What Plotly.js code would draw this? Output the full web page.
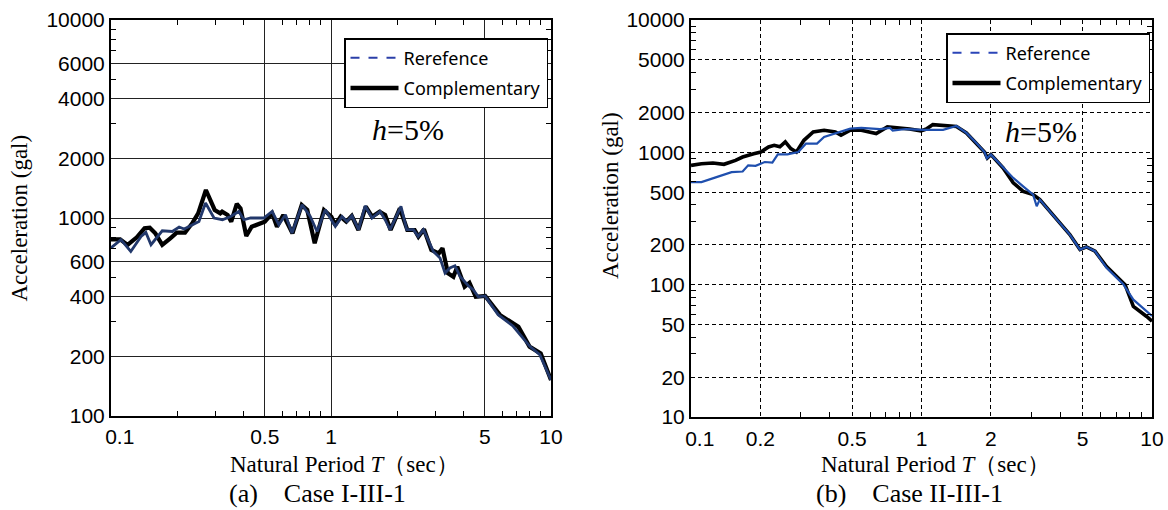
<!DOCTYPE html>
<html>
<head>
<meta charset="utf-8">
<script src="https://cdn.plot.ly/plotly-3.0.1.min.js"></script>
<style>html,body{margin:0;padding:0;background:#fff;}#chart{width:1168px;height:510px;}</style>
</head>
<body>
<div id="chart"></div>
<script>
// ---------- Data: (a) Case I-III-1 ----------
const periodA_comp = [0.100,0.110,0.119,0.131,0.142,0.150,0.159,0.171,0.186,0.199,0.217,0.235,0.249,0.270,0.296,0.314,0.320,0.339,0.352,0.373,0.388,0.412,0.436,0.471,0.500,0.540,0.568,0.607,0.668,0.736,0.780,0.843,0.929,1.004,1.044,1.106,1.173,1.243,1.333,1.439,1.538,1.662,1.762,1.866,2.056,2.223,2.40,2.497,2.647,2.858,3.09,3.212,3.40,3.60,3.75,4.05,4.26,4.55,5.02,5.86,7.11,7.99,8.98,10.0];
const accA_comp = [780,780,731,799,887,893,837,731,790,843,843,947,1056,1385,1098,1056,1076,1035,958,1178,1119,811,903,940,958,1056,903,1035,837,1163,1098,745,1098,1016,922,1016,958,1024,870,1141,1016,1076,1035,870,1119,870,870,805,877,689,663,703,526,505,568,450,471,400,404,324,282,224,207,152];
const periodA_ref = [0.100,0.111,0.123,0.137,0.144,0.152,0.171,0.190,0.204,0.215,0.230,0.251,0.269,0.294,0.321,0.350,0.381,0.402,0.431,0.495,0.540,0.579,0.621,0.665,0.739,0.805,0.864,0.942,1.046,1.122,1.182,1.245,1.334,1.430,1.535,1.673,1.762,1.857,2.08,2.21,2.37,2.49,2.63,2.92,3.13,3.30,3.47,3.66,3.86,4.21,4.43,4.67,5.01,5.75,6.73,8.01,8.89,10.0];
const accA_ref = [706,777,678,807,846,733,862,855,901,880,914,961,1191,1000,980,1018,1079,980,1000,1000,1079,925,1039,840,1167,1018,855,1101,908,1018,961,1027,873,1153,1000,1079,980,873,1145,873,873,807,873,678,628,527,559,574,507,455,434,400,404,325,284,225,204,152];

// ---------- Data: (b) Case II-III-1 ----------
const periodB_comp = [0.100,0.111,0.1245,0.139,0.156,0.1675,0.187,0.201,0.217,0.2295,0.243,0.2565,0.271,0.2867,0.309,0.339,0.378,0.423,0.4475,0.491,0.548,0.636,0.711,0.795,0.888,0.993,1.049,1.12,1.287,1.418,1.566,1.73,1.88,1.93,2.0,2.26,2.50,2.76,3.05,3.26,3.6,3.98,4.40,4.87,5.2,5.66,6.35,7.64,8.3,9.48,10.0];
const accB_comp = [797,820,830,812,870,922,977,1006,1097,1129,1100,1198,1066,1006,1233,1426,1468,1426,1346,1468,1468,1385,1556,1530,1500,1452,1500,1620,1580,1570,1401,1178,1000,907,961,762,588,507,479,439,358,293,239,184,193,179,137,100,68.5,57.5,53];
const periodB_ref = [0.100,0.111,0.129,0.150,0.1675,0.177,0.1906,0.209,0.2254,0.238,0.262,0.292,0.315,0.352,0.378,0.423,0.491,0.548,0.66,0.73,0.75,0.856,1.03,1.24,1.418,1.566,1.73,1.88,1.92,2.0,2.26,2.50,2.76,3.05,3.16,3.26,3.6,3.98,4.40,4.87,5.2,5.66,6.35,7.5,8.3,10.0];
const accB_ref = [596,596,650,709,716,797,790,845,837,966,966,1006,1163,1163,1306,1385,1511,1530,1500,1530,1460,1500,1480,1480,1580,1401,1178,1000,900,961,762,641,553,479,391,439,358,293,239,184,193,179,134,101,77,58];

// ---------- Ticks / labels ----------
const xTicksA = [0.1,0.5,1,5,10];
const yTicksA = [100,200,400,600,1000,2000,4000,6000,10000];
const xMinorA = [0.2,0.3,0.4,0.6,0.7,0.8,0.9,2,3,4,6,7,8,9];
const yMinorA = [300,500,700,800,900,3000,5000,7000,8000,9000];
const xTicksB = [0.1,0.2,0.5,1,2,5,10];
const yTicksB = [10,20,50,100,200,500,1000,2000,5000,10000];
const xMinorB = [0.3,0.4,0.6,0.7,0.8,0.9,3,4,6,7,8,9];
const yMinorB = [30,40,60,70,80,90,300,400,600,700,800,900,3000,4000,6000,7000,8000,9000];
const solidXB = [1];
const solidYB = [100,1000];

const nameRefA = 'Rerefence';
const nameRefB = 'Reference';
const nameComp = 'Complementary';
const xTitle = 'Natural Period <i>T</i>（sec）';
const yTitle = 'Acceleration (gal)';
const capA = '(a)\u3000Case I-III-1';
const capB = '(b)\u3000Case II-III-1';
const dampText = '<i>h</i>=5%';

const W = 1168, H = 510;
const px = v => v / W;
const py = v => 1 - v / H;

const SANS = 'Liberation Sans, Arial, sans-serif';
const SERIF = 'Liberation Serif, Times New Roman, serif';
const LEG = 'Noto Sans, Open Sans, sans-serif';

const navy = '#22386b';
const blueB = '#1f4fae';

// first x label sits slightly right of the axis corner, as in the original
const xLabel = (v, i) => (i === 0 ? '\u00a0\u00a0\u00a0' : '') + String(v);

const traces = [
  {x: periodA_comp, y: accA_comp, xaxis: 'x', yaxis: 'y', mode: 'lines', line: {color: '#000', width: 4.2}, showlegend: false},
  {x: periodA_ref, y: accA_ref, xaxis: 'x', yaxis: 'y', mode: 'lines', line: {color: navy, width: 2.8}, showlegend: false},
  {x: periodB_comp, y: accB_comp, xaxis: 'x2', yaxis: 'y2', mode: 'lines', line: {color: '#000', width: 3.6}, showlegend: false},
  {x: periodB_ref, y: accB_ref, xaxis: 'x2', yaxis: 'y2', mode: 'lines', line: {color: blueB, width: 2.2}, showlegend: false},
  // legend entries
  {x: [null], y: [null], xaxis: 'x', yaxis: 'y', mode: 'lines', name: nameRefA, legend: 'legend', legendgroup: 'a1', line: {color: '#2b3fa8', width: 2, dash: 'dash'}},
  {x: [null], y: [null], xaxis: 'x', yaxis: 'y', mode: 'lines', name: nameComp, legend: 'legend', legendgroup: 'a2', line: {color: '#000', width: 4.5}},
  {x: [null], y: [null], xaxis: 'x2', yaxis: 'y2', mode: 'lines', name: nameRefB, legend: 'legend2', legendgroup: 'b1', line: {color: '#2b45b8', width: 2, dash: 'dash'}},
  {x: [null], y: [null], xaxis: 'x2', yaxis: 'y2', mode: 'lines', name: nameComp, legend: 'legend2', legendgroup: 'b2', line: {color: '#000', width: 4.5}}
];

function axisBase(extra) {
  return Object.assign({
    type: 'log', showline: true, linecolor: '#000', linewidth: 2, mirror: 'ticks',
    ticks: '', tickmode: 'array', zeroline: false, fixedrange: true,
    tickfont: {family: SANS, size: 21, color: '#000'},
  }, extra);
}

function ann(text, x, y, size, angle) {
  return {text: text, xref: 'paper', yref: 'paper', x: px(x), y: py(y), xanchor: 'center', yanchor: 'middle',
          textangle: angle || 0, showarrow: false, font: {family: SERIF, size: size, color: '#000'}};
}

const legendBase = {
  xref: 'paper', yref: 'paper', xanchor: 'right', yanchor: 'top',
  bgcolor: '#fff', bordercolor: '#000', borderwidth: 1.5, itemwidth: 48,
  font: {family: LEG, size: 18, color: '#000'}, traceorder: 'grouped', tracegroupgap: 4
};

const layout = {
  width: W, height: H,
  margin: {l: 0, r: 0, t: 0, b: 0},
  paper_bgcolor: '#fff', plot_bgcolor: '#fff',
  xaxis: axisBase({
    domain: [px(111), px(551)], range: [-1, 1], anchor: 'y',
    tickvals: xTicksA, ticktext: xTicksA.map(xLabel),
    showgrid: true, gridcolor: '#222', gridwidth: 1, ticklabelstandoff: 1,
    minor: {tickmode: 'array', tickvals: xMinorA, ticks: 'inside', ticklen: 5, tickcolor: '#000', tickwidth: 1, showgrid: false}
  }),
  yaxis: axisBase({
    domain: [py(416), py(20)], range: [2, 4], anchor: 'x',
    tickvals: yTicksA, ticktext: yTicksA.map(String),
    showgrid: true, gridcolor: '#222', gridwidth: 1,
    minor: {tickmode: 'array', tickvals: yMinorA, ticks: 'inside', ticklen: 5, tickcolor: '#000', tickwidth: 1, showgrid: false}
  }),
  xaxis2: axisBase({
    domain: [px(691), px(1152)], range: [-1, 1], anchor: 'y2',
    tickvals: xTicksB, ticktext: xTicksB.map(xLabel),
    showgrid: true, gridcolor: '#000', gridwidth: 1, griddash: '4px,3px', ticklabelstandoff: 2,
    minor: {tickmode: 'array', tickvals: xMinorB, ticks: 'inside', ticklen: 5, tickcolor: '#000', tickwidth: 1, showgrid: false}
  }),
  yaxis2: axisBase({
    domain: [py(417), py(20)], range: [1, 4], anchor: 'x2',
    tickvals: yTicksB, ticktext: yTicksB.map(String),
    showgrid: true, gridcolor: '#000', gridwidth: 1, griddash: '4px,3px',
    minor: {tickmode: 'array', tickvals: yMinorB, ticks: 'inside', ticklen: 5, tickcolor: '#000', tickwidth: 1, showgrid: false}
  }),
  shapes: [].concat(
    solidXB.map(v => ({type: 'line', layer: 'below', xref: 'x2', yref: 'y2 domain', x0: Math.log10(v), x1: Math.log10(v), y0: 0, y1: 1, line: {color: '#000', width: 2}})),
    solidYB.map(v => ({type: 'line', layer: 'below', xref: 'x2 domain', yref: 'y2', x0: 0, x1: 1, y0: Math.log10(v), y1: Math.log10(v), line: {color: '#000', width: 2}}))
  ),
  legend: Object.assign({}, legendBase, {x: px(548), y: py(38)}),
  legend2: Object.assign({}, legendBase, {x: px(1150), y: py(33)}),
  annotations: [
    ann(yTitle, 18.5, 218, 23, -90),
    ann(yTitle, 611, 196, 23, -90),
    ann(xTitle, 344, 464, 23),
    ann(xTitle, 935, 464, 23),
    ann(capA, 317, 493, 26),
    ann(capB, 909, 493, 26),
    ann(dampText, 408, 129, 30),
    ann(dampText, 1041, 132, 30)
  ]
};

Plotly.newPlot('chart', traces, layout, {displayModeBar: false, staticPlot: true});
</script>
</body>
</html>
